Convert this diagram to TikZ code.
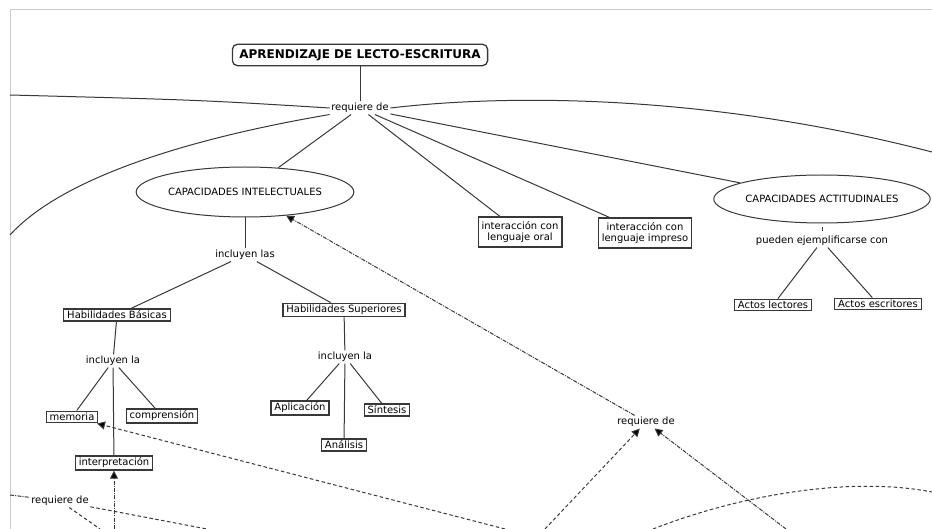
\documentclass[tikz,border=0pt]{standalone}
\usepackage{fontspec}
\setmainfont{DejaVu Sans}
\usetikzlibrary{shapes.geometric,arrows.meta}
\definecolor{lnc}{HTML}{383838}
\tikzset{
  lbl/.style={font=\fontsize{10}{11.5}\selectfont, inner sep=1.5pt, text=black},
  cbox/.style={lbl, draw=lnc, line width=1.2pt, inner xsep=3.5pt, inner ysep=2pt, align=center},
  cell/.style={lbl, draw=lnc, line width=1pt, ellipse, inner sep=0pt},
  conn/.style={draw=lnc, line width=1pt},
  dsh/.style={draw=lnc, line width=1pt, dash pattern=on 3.5pt off 2.5pt},
  ddot/.style={draw=lnc, line width=1pt, dash pattern=on 4pt off 1.2pt on 1pt off 1.2pt},
  arr/.style={-{Triangle[length=8pt,width=8pt,fill=black]}},
}
\begin{document}
\begin{tikzpicture}[x=1pt,y=-1pt]
\useasboundingbox (0,0) rectangle (932,529);
\draw[gray!40, line width=1pt] (10,529) -- (10,10) -- (932,10);

% nodes
\node[draw=lnc, line width=1.3pt, rounded corners=5pt, inner xsep=7pt, inner ysep=5pt,
      font=\bfseries\fontsize{12}{14}\selectfont] (title) at (360,55) {APRENDIZAJE DE LECTO-ESCRITURA};
\node[lbl] (req1) at (360,108) {requiere de};
\node[cell, minimum width=176pt, minimum height=50pt] (ci) at (245,192) {CAPACIDADES INTELECTUALES};
\node[cell, minimum width=176pt, minimum height=48pt] (ca) at (822,199) {CAPACIDADES ACTITUDINALES};
\node[cbox, minimum height=30pt] (oral) at (520,232) {interacción con\\lenguaje oral};
\node[cbox, minimum height=30pt] (impreso) at (645,233) {interacción con\\lenguaje impreso};
\node[lbl] (pec) at (822,241) {pueden ejemplificarse con};
\node[cbox] (al) at (773,305) {Actos lectores};
\node[cbox] (ae) at (878,304) {Actos escritores};
\node[lbl] (inc) at (245,255) {incluyen las};
\node[cbox] (hb) at (117,315) {Habilidades Básicas};
\node[cbox] (hs) at (344,310) {Habilidades Superiores};
\node[lbl] (il1) at (113,361) {incluyen la};
\node[lbl] (il2) at (345,357) {incluyen la};
\node[cbox] (mem) at (72,417) {memoria};
\node[cbox] (comp) at (162,416) {comprensión};
\node[cbox] (interp) at (114,463) {interpretación};
\node[cbox] (apl) at (300,408) {Aplicación};
\node[cbox] (ana) at (344,445) {Análisis};
\node[cbox] (sin) at (387,410) {Síntesis};
\node[lbl] (req2) at (646,422) {requiere de};
\node[lbl] (req3) at (60,501) {requiere de};

% free ends
\coordinate (lA) at (10,95);
\coordinate (lB) at (10,235);
\coordinate (rA) at (932,152);
\coordinate (bMem) at (505,529);
\coordinate (bR1) at (545,529);
\coordinate (bR2) at (786,529);
\coordinate (bC1) at (653,529);
\coordinate (bC2) at (932,492);
\coordinate (lC) at (10,495);
\coordinate (bL1) at (207,529);
\coordinate (bL2) at (100,529);
\coordinate (bI) at (114,529);

% solid connectors
\draw[conn] (title) -- (req1);
\draw[conn] (req1.west) .. controls (200,100) .. (lA);
\draw[conn] (req1.south west) .. controls (180,140) and (60,180) .. (lB);
\draw[conn] (req1.east) .. controls (500,95) and (700,92) .. (rA);
\draw[conn] (req1) -- (ci);
\draw[conn] (req1) -- (oral);
\draw[conn] (req1) -- (impreso);
\draw[conn] (req1) -- (ca);
\draw[conn, shorten <=4pt, shorten >=3pt] (ca) -- (pec);
\draw[conn] (pec) -- (al);
\draw[conn] (pec) -- (ae);
\draw[conn] (ci) -- (inc);
\draw[conn] (inc) -- (hb);
\draw[conn] (inc) -- (hs);
\draw[conn] (hb) -- (il1);
\draw[conn] (il1) -- (mem);
\draw[conn] (il1) -- (comp);
\draw[conn] (il1) -- (interp);
\draw[conn] (hs) -- (il2);
\draw[conn] (il2) -- (apl);
\draw[conn] (il2) -- (ana);
\draw[conn] (il2) -- (sin);

% dashed connectors
\draw[ddot, arr] (req2) -- (ci);
\draw[dsh, arr] (bMem) -- (mem);
\draw[dsh, arr] (bR1) -- (req2);
\draw[ddot, arr] (bR2) -- (req2);
\draw[dsh] (bC1) .. controls (740,495) and (850,476) .. (bC2);
\draw[ddot] (lC) -- (req3);
\draw[dsh] (req3) -- (bL1);
\draw[dsh] (req3) -- (bL2);
\draw[ddot, arr] (bI) -- (interp);
\end{tikzpicture}
\end{document}
